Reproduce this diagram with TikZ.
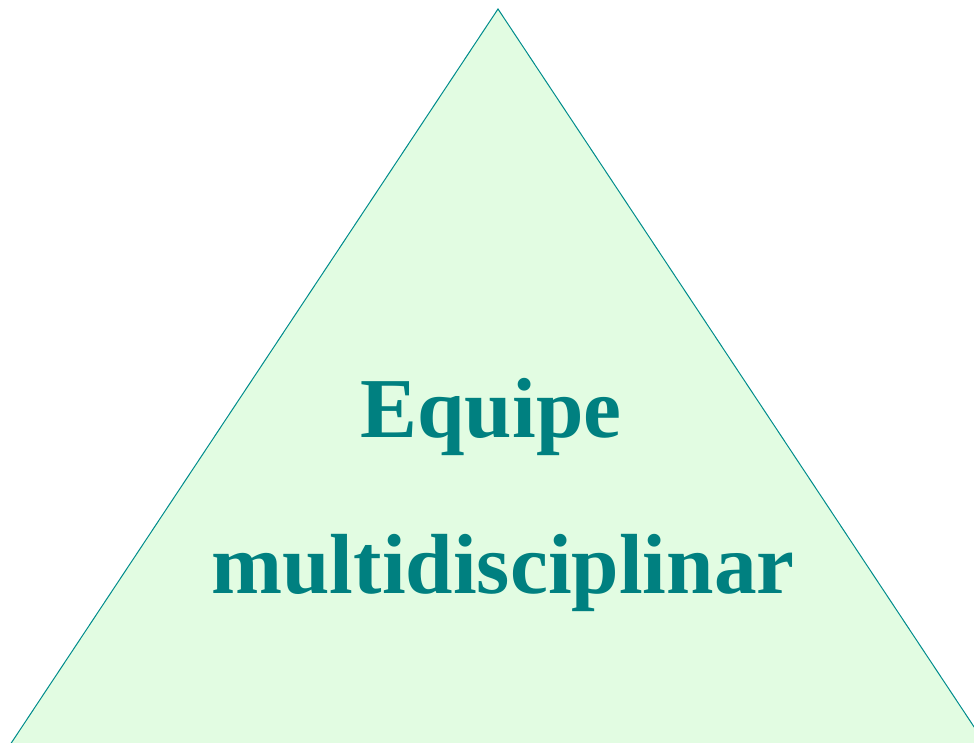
\documentclass[tikz,border=0pt]{standalone}
\usepackage{fontspec}
\setmainfont{Liberation Serif}
\definecolor{tealtext}{RGB}{0,128,128}
\definecolor{tealline}{RGB}{0,140,140}
\definecolor{paleGreen}{RGB}{226,252,226}
\tikzset{
  tri/.style={draw=tealline, fill=paleGreen, line width=1pt, line join=miter},
  label text/.style={text=tealtext, font=\fontsize{85.3}{90}\selectfont\bfseries, inner sep=0pt, anchor=base}
}
\begin{document}
\begin{tikzpicture}[x=1pt,y=-1pt]
\useasboundingbox (0,0) rectangle (974,743);
\clip (0,0) rectangle (974,743);
\coordinate (apex) at (498,9);
\coordinate (bl) at (-2,763);
\coordinate (br) at (998,763);
\draw[tri] (apex) -- (bl) -- (br) -- cycle;
\node[label text] (t1) at (491,437) {Equipe};
\node[label text] (t2) at (503,593) {multidisciplinar};
\end{tikzpicture}
\end{document}
